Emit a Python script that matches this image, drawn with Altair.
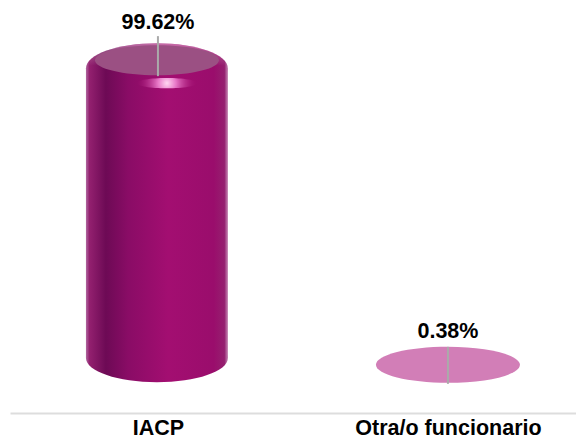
import altair as alt
import pandas as pd

categories = ["IACP", "Otra/o funcionario"]
values = [99.62, 0.38]
labels = ["99.62%", "0.38%"]

df = pd.DataFrame({"cat": categories, "value": values, "label": labels})

FONT = "Liberation Sans"
BODY = alt.LinearGradient(
    gradient="linear", x1=0, x2=1, y1=0, y2=0,
    stops=[
        alt.GradientStop(offset=0, color="#b0689f"),
        alt.GradientStop(offset=0.025, color="#93206f"),
        alt.GradientStop(offset=0.14, color="#6d0a55"),
        alt.GradientStop(offset=0.30, color="#8a0c66"),
        alt.GradientStop(offset=0.58, color="#a30e71"),
        alt.GradientStop(offset=0.90, color="#9a0d6c"),
        alt.GradientStop(offset=0.975, color="#95206f"),
        alt.GradientStop(offset=1, color="#c58ab5"),
    ],
)
SHEEN = alt.LinearGradient(
    gradient="linear", x1=0, x2=0, y1=0, y2=1,
    stops=[
        alt.GradientStop(offset=0, color="#ffffff66"),
        alt.GradientStop(offset=0.45, color="#ffffff00"),
        alt.GradientStop(offset=1, color="#ffffff00"),
    ],
)
GLOW = alt.RadialGradient(
    gradient="radial", x1=0.5, y1=0.5, r1=0, x2=0.5, y2=0.5, r2=0.5,
    stops=[
        alt.GradientStop(offset=0, color="#ffd8f2"),
        alt.GradientStop(offset=0.3, color="#e878c8"),
        alt.GradientStop(offset=1, color="#a30e7100"),
    ],
)


def ellipse(ratio):
    k = 0.5523
    r = ratio
    return (
        f"M-1,0C-1,{-k*r:.4f},{-k:.4f},{-r},0,{-r}C{k:.4f},{-r},1,{-k*r:.4f},1,0"
        f"C1,{k*r:.4f},{k:.4f},{r},0,{r}C{-k:.4f},{r},-1,{k*r:.4f},-1,0Z"
    )


x = alt.X(
    "cat:N",
    sort=categories,
    scale=alt.Scale(type="point", padding=0.4759, align=0.536),
    axis=alt.Axis(
        title=None, labelAngle=0, ticks=False, grid=False,
        domainColor="#dddddd", domainWidth=2,
        labelFont=FONT, labelFontWeight="bold", labelFontSize=21.5,
        labelColor="#000000", labelPadding=15, labelLimit=0, labelBaseline="middle",
    ),
)
yscale = alt.Scale(domain=[-15.3, 116.6], nice=False, zero=False)
y = alt.Y("value:Q", scale=yscale, axis=None)
base = alt.Chart(df).encode(x=x, y=y)
big = base.transform_filter("datum.value > 1")
small = base.transform_filter("datum.value <= 1")

bottom_cap = alt.Chart(df).transform_filter("datum.value > 1").mark_point(
    shape=ellipse(0.34), size=20164, filled=True, fill=BODY, opacity=1, strokeWidth=0, yOffset=-8, xOffset=-1
).encode(x=x, y=alt.Y(datum=0, scale=yscale, axis=None))
body = big.mark_bar(size=142, fill=BODY, yOffset=8, y2Offset=-8, xOffset=-1).encode(
    y2=alt.Y2(datum=0)
)
top_cap = big.mark_point(
    shape=ellipse(0.352), size=20164, filled=True, fill=BODY, opacity=1, strokeWidth=0, yOffset=8, xOffset=-1
)
sheen = big.mark_point(
    shape=ellipse(0.352), size=20164, filled=True, fill=SHEEN, opacity=1, strokeWidth=0, yOffset=8, xOffset=-1
)
disc = big.mark_point(
    shape=ellipse(0.242), size=15376, filled=True, fill="#9b5083", opacity=1, strokeWidth=0, xOffset=-1
)
glow = big.mark_point(
    shape=ellipse(0.17), size=3600, filled=True, fill=GLOW, opacity=1, strokeWidth=0,
    xOffset=9, yOffset=23,
)
small_disc = small.mark_point(
    shape=ellipse(0.25), size=20736, filled=True, fill="#d27eb7", opacity=1, strokeWidth=0
)
big_rule = big.mark_rule(color="#aaaaaa", strokeWidth=2, yOffset=-24, y2Offset=16).encode(
    y2=alt.Y2("value:Q")
)
small_rule = small.mark_rule(color="#aaaaaa", strokeWidth=2, yOffset=-18, y2Offset=19).encode(
    y2=alt.Y2("value:Q")
)
text_style = dict(font=FONT, fontWeight="bold", fontSize=21.5, color="#000000", baseline="middle")
big_text = big.mark_text(dy=-37, **text_style).encode(text="label:N")
small_text = small.mark_text(dy=-33, **text_style).encode(text="label:N")

chart = (
    alt.layer(bottom_cap, body, top_cap, sheen, disc, glow, small_disc, big_rule, small_rule, big_text, small_text)
    .properties(
        width=566, height=405,
        autosize=alt.AutoSizeParams(type="none"),
        padding={"left": 2, "top": 0, "right": 0, "bottom": 27},
    )
    .configure_view(stroke=None)
)
chart.save("out.html", embed_options={"renderer": "svg", "actions": False})
